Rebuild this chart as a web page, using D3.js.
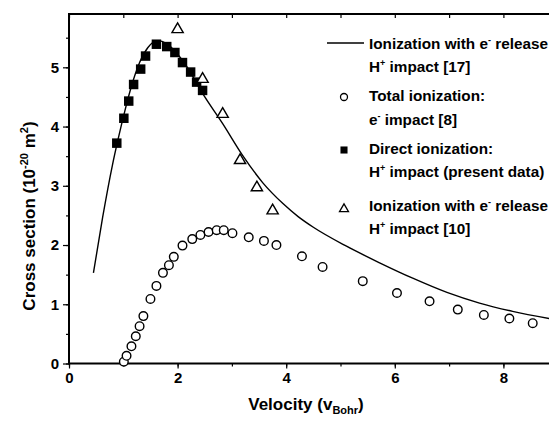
<!DOCTYPE html>
<html lang="en">
<head>
    <meta charset="UTF-8">
    <script src="https://d3js.org/d3.v7.min.js"></script>
    <style>
        body {margin: 0; background-color: #fff; overflow: hidden;}
        svg {display: block; font-family: "Liberation Sans", Arial, sans-serif;}
    </style>
</head>
<body>
<svg class="chart"></svg>
<script type="text/javascript">
    // solid curve: ionization with e- release, H+ impact [17]
    const curveV = [0.45, 0.62, 0.80, 0.90, 1.03, 1.15, 1.30, 1.45, 1.63, 1.80, 2.00, 2.20, 2.46, 2.83, 3.20, 3.57, 3.94, 4.22, 4.50, 5.11, 5.72, 6.33, 6.96, 7.56, 8.17, 8.90];
    const curveS = [1.53, 2.47, 3.35, 3.77, 4.27, 4.68, 5.08, 5.33, 5.45, 5.40, 5.22, 4.97, 4.56, 4.05, 3.51, 3.05, 2.70, 2.48, 2.30, 1.98, 1.70, 1.44, 1.20, 1.02, 0.88, 0.75];

    // open circles: total ionization, e- impact [8]
    const circV = [1.01, 1.06, 1.15, 1.23, 1.30, 1.37, 1.50, 1.61, 1.73, 1.84, 1.93, 2.09, 2.27, 2.42, 2.57, 2.72, 2.85, 3.01, 3.31, 3.59, 3.82, 4.29, 4.67, 5.41, 6.04, 6.64, 7.16, 7.64, 8.11, 8.54];
    const circS = [0.03, 0.13, 0.29, 0.46, 0.63, 0.80, 1.09, 1.31, 1.53, 1.66, 1.80, 1.99, 2.10, 2.17, 2.22, 2.25, 2.25, 2.20, 2.13, 2.07, 2.00, 1.81, 1.63, 1.39, 1.19, 1.05, 0.91, 0.82, 0.76, 0.68];

    // filled squares: direct ionization, present data
    const sqV = [0.88, 1.01, 1.10, 1.19, 1.32, 1.41, 1.61, 1.80, 1.95, 2.09, 2.24, 2.35, 2.46];
    const sqS = [3.72, 4.14, 4.43, 4.71, 4.97, 5.19, 5.39, 5.35, 5.25, 5.08, 4.92, 4.75, 4.61];

    // open triangles: ionization with e- release, H+ impact [10]
    const triV = [2.00, 2.46, 2.83, 3.15, 3.46, 3.75];
    const triS = [5.64, 4.80, 4.21, 3.43, 2.97, 2.58];

    const xTicks = [0, 2, 4, 6, 8];
    const yTicks = [0, 1, 2, 3, 4, 5];

    let chartW = 549, chartH = 422;
    let mLeft = 69, mTop = 14, mBottom = 363.5;

    var svg = d3.select('.chart')
        .attr('width', chartW)
        .attr('height', chartH);

    var x = d3.scaleLinear().domain([0, 9]).range([mLeft, mLeft + 9 * 54.3]);
    var y = d3.scaleLinear().domain([0, 5.9]).range([mBottom, mTop]);

    // frame + ticks
    var minorX = d3.range(0, 9.01, 1);
    var minorY = d3.range(0, 5.9, 0.5);

    svg.append('g')
        .attr('transform', 'translate(0,' + mBottom + ')')
        .call(d3.axisBottom(x).tickValues(minorX).tickSize(3).tickFormat(''))
        .call(g => g.select('.domain').remove());
    svg.append('g')
        .attr('transform', 'translate(0,' + mBottom + ')')
        .call(d3.axisBottom(x).tickValues(xTicks).tickSize(5).tickPadding(4).tickFormat(d3.format('d')))
        .call(g => g.select('.domain').remove())
        .call(g => g.selectAll('text').attr('font-size', 15).attr('font-weight', 'bold').attr('fill', '#000'));

    svg.append('g')
        .attr('transform', 'translate(0,' + mTop + ')')
        .call(d3.axisBottom(x).tickValues(minorX).tickSize(4).tickFormat(''))
        .call(g => g.select('.domain').remove());

    svg.append('g')
        .attr('transform', 'translate(' + mLeft + ',0)')
        .call(d3.axisLeft(y).tickValues(minorY).tickSize(3).tickFormat(''))
        .call(g => g.select('.domain').remove());
    svg.append('g')
        .attr('transform', 'translate(' + mLeft + ',0)')
        .call(d3.axisLeft(y).tickValues(yTicks).tickSize(6).tickPadding(4).tickFormat(d3.format('d')))
        .call(g => g.select('.domain').remove())
        .call(g => g.selectAll('text').attr('font-size', 15).attr('font-weight', 'bold').attr('fill', '#000'));

    svg.selectAll('.tick line').attr('stroke', '#000').attr('stroke-width', 1.2);

    svg.append('rect')
        .attr('x', mLeft).attr('y', mTop)
        .attr('width', x(9) - mLeft).attr('height', mBottom - mTop)
        .attr('fill', 'none').attr('stroke', '#000').attr('stroke-width', 2);

    // theory curve
    var pts = curveV.map((v, i) => [v, curveS[i]]);
    svg.append('path')
        .datum(pts)
        .attr('fill', 'none')
        .attr('stroke', '#000')
        .attr('stroke-width', 1.4)
        .attr('d', d3.line().x(d => x(d[0])).y(d => y(d[1])).curve(d3.curveMonotoneX));

    // circles
    svg.append('g').selectAll('circle').data(circV).enter().append('circle')
        .attr('cx', (d) => x(d))
        .attr('cy', (d, i) => y(circS[i]))
        .attr('r', 4.3)
        .attr('fill', '#fff')
        .attr('stroke', '#000')
        .attr('stroke-width', 1.4);

    // squares
    var sq = d3.symbol().type(d3.symbolSquare).size(90);
    svg.append('g').selectAll('path').data(sqV).enter().append('path')
        .attr('transform', (d, i) => 'translate(' + x(d) + ',' + y(sqS[i]) + ')')
        .attr('d', sq)
        .attr('fill', '#000');

    // triangles
    var tri = d3.symbol().type(d3.symbolTriangle).size(55);
    svg.append('g').selectAll('path').data(triV).enter().append('path')
        .attr('transform', (d, i) => 'translate(' + x(d) + ',' + y(triS[i]) + ')')
        .attr('d', tri)
        .attr('fill', '#fff')
        .attr('stroke', '#000')
        .attr('stroke-width', 1.4);

    // axis titles
    var xt = svg.append('text')
        .attr('x', 306).attr('y', 410)
        .attr('text-anchor', 'middle')
        .attr('font-size', 17).attr('font-weight', 'bold');
    xt.append('tspan').text('Velocity (v');
    xt.append('tspan').attr('font-size', 11).attr('dy', 4).text('Bohr');
    xt.append('tspan').attr('dy', -4).text(')');

    var yt = svg.append('text')
        .attr('transform', 'translate(35,216) rotate(-90)')
        .attr('text-anchor', 'middle')
        .attr('font-size', 17).attr('font-weight', 'bold');
    yt.append('tspan').text('Cross section (10');
    yt.append('tspan').attr('font-size', 11).attr('dy', -7).text('-20');
    yt.append('tspan').attr('dy', 7).text(' m');
    yt.append('tspan').attr('font-size', 11).attr('dy', -7).text('2');
    yt.append('tspan').attr('dy', 7).text(')');

    // legend
    var lg = svg.append('g').attr('font-size', 15.3).attr('font-weight', 'bold');
    lg.append('line').attr('x1', 327).attr('x2', 364).attr('y1', 43).attr('y2', 43)
        .attr('stroke', '#000').attr('stroke-width', 1.4);
    lg.append('circle').attr('cx', 344).attr('cy', 97).attr('r', 3.5)
        .attr('fill', '#fff').attr('stroke', '#000').attr('stroke-width', 1.3);
    lg.append('path').attr('transform', 'translate(344,150)').attr('d', d3.symbol().type(d3.symbolSquare).size(50))
        .attr('fill', '#000');
    lg.append('path').attr('transform', 'translate(344,209)').attr('d', d3.symbol().type(d3.symbolTriangle).size(35))
        .attr('fill', '#fff').attr('stroke', '#000').attr('stroke-width', 1.3);

    // parts: [text, dy, small]
    function legLine(yy, parts) {
        var t = lg.append('text').attr('x', 369).attr('y', yy);
        parts.forEach(p => {
            var s = t.append('tspan').text(p[0]);
            if (p[1]) s.attr('dy', p[1]);
            if (p[2]) s.attr('font-size', 9);
        });
    }
    legLine(49, [['Ionization with e'], ['-', -6, true], [' release', 6]]);
    legLine(72, [['H'], ['+', -6, true], [' impact [17]', 6]]);
    legLine(101, [['Total ionization:']]);
    legLine(125, [['e'], ['-', -6, true], [' impact [8]', 6]]);
    legLine(154, [['Direct ionization:']]);
    legLine(177, [['H'], ['+', -6, true], [' impact (present data)', 6]]);
    legLine(211, [['Ionization with e'], ['-', -6, true], [' release', 6]]);
    legLine(234, [['H'], ['+', -6, true], [' impact [10]', 6]]);
</script>
</body>
</html>
